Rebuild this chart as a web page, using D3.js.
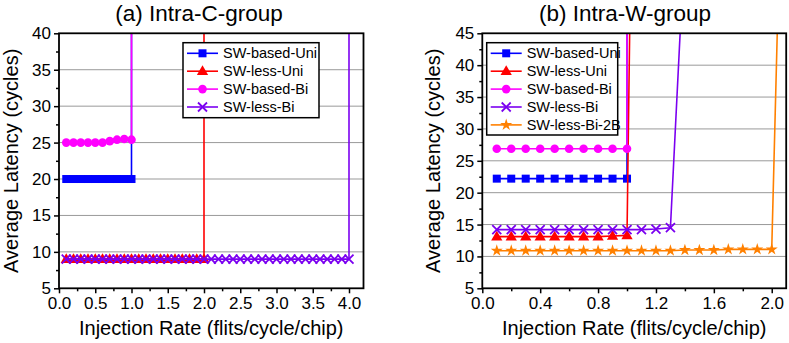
<!DOCTYPE html>
<html>
<head>
<meta charset="utf-8">
<script src="https://cdn.jsdelivr.net/npm/d3@7"></script>
<style>
  body { margin: 0; background: #fff; }
  svg { display: block; font-family: "Liberation Sans", Arial, sans-serif; }
</style>
</head>
<body>
<svg id="chart" width="789" height="343"></svg>
<script>
// ---- data: (a) Intra-C-group ----
const ratesA10 = [0.1, 0.2, 0.3, 0.4, 0.5, 0.6, 0.7, 0.8, 0.9, 1.0];
const ratesA20 = [0.1, 0.2, 0.3, 0.4, 0.5, 0.6, 0.7, 0.8, 0.9, 1.0,
                  1.1, 1.2, 1.3, 1.4, 1.5, 1.6, 1.7, 1.8, 1.9, 2.0];
const ratesA40 = [0.1, 0.2, 0.3, 0.4, 0.5, 0.6, 0.7, 0.8, 0.9, 1.0,
                  1.1, 1.2, 1.3, 1.4, 1.5, 1.6, 1.7, 1.8, 1.9, 2.0,
                  2.1, 2.2, 2.3, 2.4, 2.5, 2.6, 2.7, 2.8, 2.9, 3.0,
                  3.1, 3.2, 3.3, 3.4, 3.5, 3.6, 3.7, 3.8, 3.9, 4.0];
const aSwBasedUni = [20, 20, 20, 20, 20, 20, 20, 20, 20, 20];
const aSwLessUni = [9, 9, 9, 9, 9, 9, 9, 9, 9, 9, 9, 9, 9, 9, 9, 9, 9, 9, 9, 9];
const aSwBasedBi = [25, 25, 25, 25, 25, 25, 25.2, 25.4, 25.5, 25.4];
const aSwLessBi = [9, 9, 9, 9, 9, 9, 9, 9, 9, 9, 9, 9, 9, 9, 9, 9, 9, 9, 9, 9,
                   9, 9, 9, 9, 9, 9, 9, 9, 9, 9, 9, 9, 9, 9, 9, 9, 9, 9, 9, 9];
// saturation points (network blows up, line leaves the plot)
const aSatUni = [1.0, 500];
const aSatLessUni = [2.0, 500];
const aSatBasedBi = [1.0, 500];
const aSatLessBi = [4.0, 500];

// ---- data: (b) Intra-W-group ----
const ratesB10 = [0.1, 0.2, 0.3, 0.4, 0.5, 0.6, 0.7, 0.8, 0.9, 1.0];
const ratesB13 = [0.1, 0.2, 0.3, 0.4, 0.5, 0.6, 0.7, 0.8, 0.9, 1.0, 1.1, 1.2, 1.3];
const ratesB20 = [0.1, 0.2, 0.3, 0.4, 0.5, 0.6, 0.7, 0.8, 0.9, 1.0,
                  1.1, 1.2, 1.3, 1.4, 1.5, 1.6, 1.7, 1.8, 1.9, 2.0];
const bSwBasedUni = [22.2, 22.2, 22.2, 22.2, 22.2, 22.2, 22.2, 22.2, 22.2, 22.2];
const bSwLessUni = [13.1, 13.1, 13.1, 13.1, 13.1, 13.1, 13.1, 13.1, 13.2, 13.3];
const bSwBasedBi = [26.9, 26.9, 26.9, 26.9, 26.9, 26.9, 26.9, 26.9, 26.9, 26.9];
const bSwLessBi = [14.2, 14.2, 14.2, 14.2, 14.2, 14.2, 14.2, 14.2, 14.2, 14.2, 14.2, 14.3, 14.5];
const bSwLessBi2B = [10.9, 10.9, 10.9, 10.9, 10.9, 10.9, 10.9, 10.9, 10.9, 10.9,
                     10.9, 10.9, 10.9, 11.0, 11.0, 11.0, 11.1, 11.1, 11.1, 11.1];
const bSatUni = [1.0, 500];
const bSatLessUni = [1.05, 100];
const bSatBasedBi = [1.0, 500];
const bSatLessBi = [1.4, 60];
const bSatLessBi2B = [2.1, 100];

const seriesNames = ["SW-based-Uni", "SW-less-Uni", "SW-based-Bi", "SW-less-Bi", "SW-less-Bi-2B"];
const seriesColors = ["#0000ff", "#ff0000", "#ff00ff", "#7b00f0", "#ff8000"];
const seriesShapes = ["square", "triangle", "circle", "cross", "star"];

function build(xs, ys, sat) {
  const pts = xs.map((x, i) => ({ x: x, y: ys[i], m: true }));
  pts.push({ x: sat[0], y: sat[1], m: false });
  return pts;
}

const panels = [
  {
    id: "a", title: "(a) Intra-C-group",
    xr: [59, 363.5], yr: [288.3, 33.3],
    xDomain: [0, 4.2], yDomain: [5, 40],
    xMajor: [0, 0.5, 1.0, 1.5, 2.0, 2.5, 3.0, 3.5, 4.0],
    xMinor: [0.25, 0.75, 1.25, 1.75, 2.25, 2.75, 3.25, 3.75],
    yMajor: [5, 10, 15, 20, 25, 30, 35, 40],
    yMinor: [7.5, 12.5, 17.5, 22.5, 27.5, 32.5, 37.5],
    titleX: 199, yTitleX: 18,
    legend: { x: 183, y: 42.7, w: 136, h: 75 },
    series: [
      build(ratesA10, aSwBasedUni, aSatUni),
      build(ratesA20, aSwLessUni, aSatLessUni),
      build(ratesA10, aSwBasedBi, aSatBasedBi),
      build(ratesA40, aSwLessBi, aSatLessBi)
    ]
  },
  {
    id: "b", title: "(b) Intra-W-group",
    xr: [482.3, 786.2], yr: [288.3, 33.3],
    xDomain: [0, 2.1], yDomain: [5, 45],
    xMajor: [0, 0.4, 0.8, 1.2, 1.6, 2.0],
    xMinor: [0.2, 0.6, 1.0, 1.4, 1.8],
    yMajor: [5, 10, 15, 20, 25, 30, 35, 40, 45],
    yMinor: [7.5, 12.5, 17.5, 22.5, 27.5, 32.5, 37.5, 42.5],
    titleX: 625, yTitleX: 440,
    legend: { x: 486.7, y: 42.7, w: 131, h: 92.3 },
    series: [
      build(ratesB10, bSwBasedUni, bSatUni),
      build(ratesB10, bSwLessUni, bSatLessUni),
      build(ratesB10, bSwBasedBi, bSatBasedBi),
      build(ratesB13, bSwLessBi, bSatLessBi),
      build(ratesB20, bSwLessBi2B, bSatLessBi2B)
    ]
  }
];

const svg = d3.select("#chart");

function drawMarker(g, shape, color, cx, cy) {
  if (shape === "square") {
    g.append("rect").attr("x", cx - 4).attr("y", cy - 4).attr("width", 8).attr("height", 8)
      .attr("fill", color);
  } else if (shape === "circle") {
    g.append("circle").attr("cx", cx).attr("cy", cy).attr("r", 4.3).attr("fill", color);
  } else if (shape === "triangle") {
    g.append("path").attr("d", d3.symbol(d3.symbolTriangle, 55)()).attr("fill", color)
      .attr("transform", `translate(${cx},${cy + 0.5})`);
  } else if (shape === "cross") {
    g.append("path").attr("d", "M-4.5,-4.5L4.5,4.5M-4.5,4.5L4.5,-4.5")
      .attr("stroke", color).attr("stroke-width", 1.8).attr("fill", "none")
      .attr("transform", `translate(${cx},${cy})`);
  } else if (shape === "star") {
    g.append("path").attr("d", d3.symbol(d3.symbolStar, 45)()).attr("fill", color)
      .attr("transform", `translate(${cx},${cy})`);
  }
}

panels.forEach(p => {
  const x = d3.scaleLinear().domain(p.xDomain).range(p.xr);
  const y = d3.scaleLinear().domain(p.yDomain).range(p.yr);
  const g = svg.append("g");

  // grid lines
  g.append("g").selectAll("line")
    .data(p.yMajor.slice(1, -1))
    .join("line")
    .attr("x1", p.xr[0]).attr("x2", p.xr[1])
    .attr("y1", d => y(d)).attr("y2", d => y(d))
    .attr("stroke", "#999").attr("stroke-width", 1);

  // axes
  const xAxis = d3.axisBottom(x).tickValues(p.xMajor).tickFormat(d3.format(".1f")).tickSize(5).tickPadding(4);
  const xAxisMinor = d3.axisBottom(x).tickValues(p.xMinor).tickFormat("").tickSize(3);
  const yAxis = d3.axisLeft(y).tickValues(p.yMajor).tickFormat(d3.format("d")).tickSize(5).tickPadding(3);
  const yAxisMinor = d3.axisLeft(y).tickValues(p.yMinor).tickFormat("").tickSize(3);

  [xAxis, xAxisMinor].forEach(ax => {
    const a = g.append("g").attr("transform", `translate(0,${p.yr[0]})`).call(ax);
    a.select(".domain").remove();
    a.selectAll("line").attr("stroke", "#000").attr("stroke-width", 1.5);
    a.selectAll("text").attr("font-size", 17).attr("fill", "#000")
      .attr("font-family", "Liberation Sans, Arial, sans-serif");
  });
  [yAxis, yAxisMinor].forEach(ax => {
    const a = g.append("g").attr("transform", `translate(${p.xr[0]},0)`).call(ax);
    a.select(".domain").remove();
    a.selectAll("line").attr("stroke", "#000").attr("stroke-width", 1.5);
    a.selectAll("text").attr("font-size", 17).attr("fill", "#000")
      .attr("font-family", "Liberation Sans, Arial, sans-serif");
  });

  // clip
  const clipId = "clip-" + p.id;
  svg.append("clipPath").attr("id", clipId).append("rect")
    .attr("x", p.xr[0]).attr("y", p.yr[1])
    .attr("width", p.xr[1] - p.xr[0]).attr("height", p.yr[0] - p.yr[1]);

  const plot = g.append("g").attr("clip-path", `url(#${clipId})`);
  const line = d3.line().x(d => x(d.x)).y(d => y(d.y));

  p.series.forEach((pts, i) => {
    const color = seriesColors[i];
    plot.append("path").datum(pts).attr("d", line)
      .attr("fill", "none").attr("stroke", color).attr("stroke-width", 1.6);
    const mg = plot.append("g");
    pts.filter(d => d.m).forEach(d => drawMarker(mg, seriesShapes[i], color, x(d.x), y(d.y)));
  });

  // frame
  g.append("rect")
    .attr("x", p.xr[0]).attr("y", p.yr[1])
    .attr("width", p.xr[1] - p.xr[0]).attr("height", p.yr[0] - p.yr[1])
    .attr("fill", "none").attr("stroke", "#000").attr("stroke-width", 1.8);

  // titles
  g.append("text").attr("x", p.titleX).attr("y", 21)
    .attr("text-anchor", "middle").attr("font-size", 22.5).text(p.title);
  g.append("text").attr("x", (p.xr[0] + p.xr[1]) / 2).attr("y", 335)
    .attr("text-anchor", "middle").attr("font-size", 20).text("Injection Rate (flits/cycle/chip)");
  g.append("text")
    .attr("transform", `translate(${p.yTitleX},${(p.yr[0] + p.yr[1]) / 2}) rotate(-90)`)
    .attr("text-anchor", "middle").attr("font-size", 20).text("Average Latency (cycles)");

  // legend
  const L = p.legend;
  const lg = g.append("g");
  lg.append("rect").attr("x", L.x).attr("y", L.y).attr("width", L.w).attr("height", L.h)
    .attr("fill", "#fff").attr("stroke", "#000").attr("stroke-width", 1.5);
  p.series.forEach((pts, i) => {
    const cy = L.y + 10.6 + i * 17.9;
    const color = seriesColors[i];
    lg.append("line").attr("x1", L.x + 4).attr("x2", L.x + 35).attr("y1", cy).attr("y2", cy)
      .attr("stroke", color).attr("stroke-width", 1.6);
    drawMarker(lg, seriesShapes[i], color, L.x + 19.5, cy);
    lg.append("text").attr("x", L.x + 40).attr("y", cy + 5)
      .attr("font-size", 14.5).text(seriesNames[i]);
  });
});
</script>
</body>
</html>
